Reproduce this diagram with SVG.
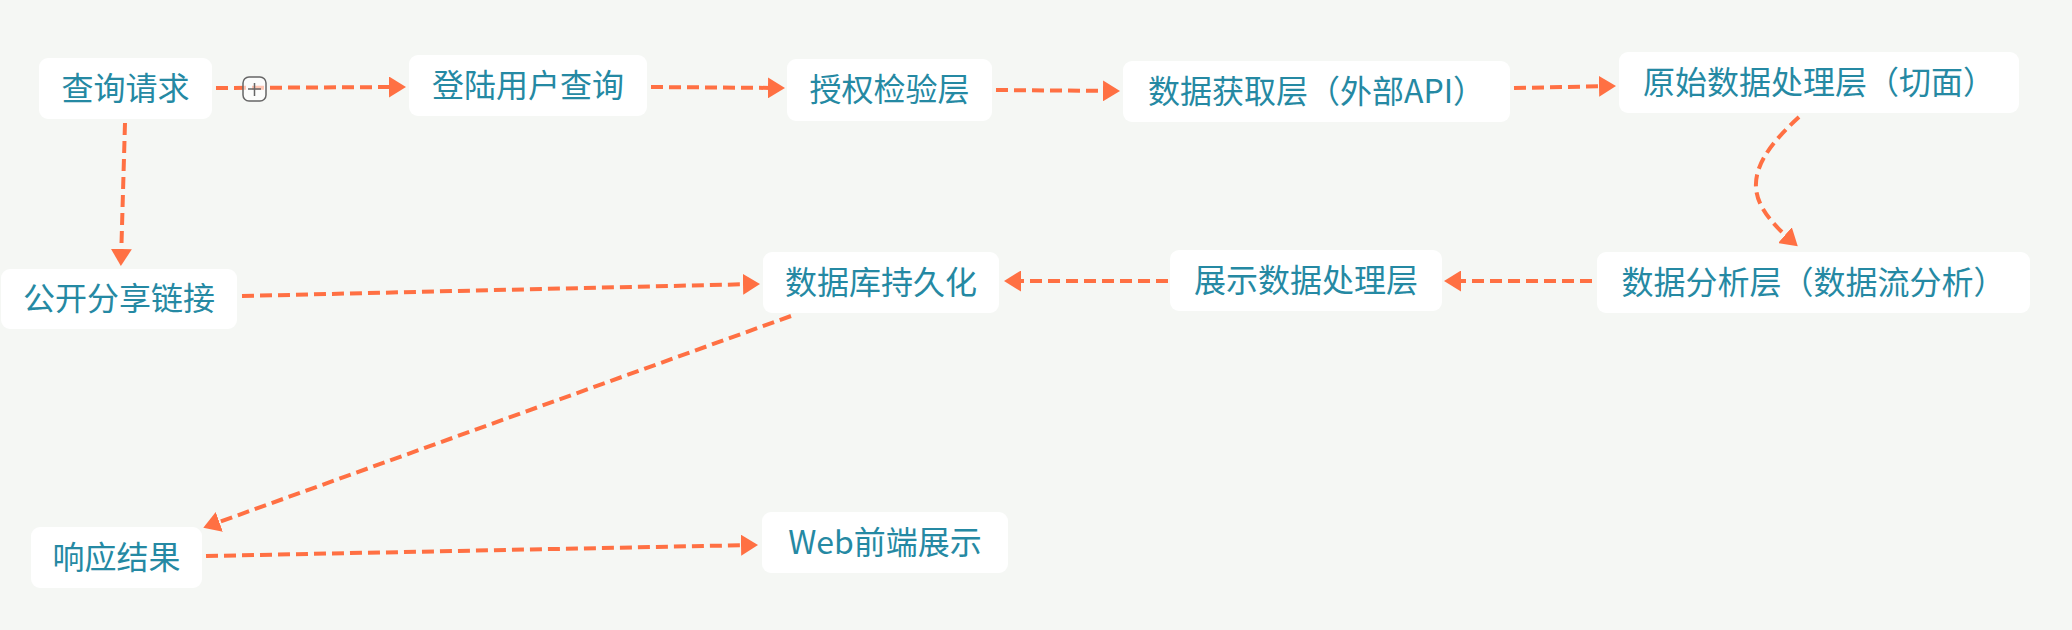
<svg xmlns="http://www.w3.org/2000/svg" width="2072" height="630" viewBox="0 0 2072 630">
<style>
.box{fill:#ffffff}
.lbl{font-family:"Noto Sans CJK SC","Noto Sans",sans-serif;font-size:32px;fill:#2589a3;text-anchor:middle}
.edge{fill:none;stroke:#ff7043;stroke-width:4;stroke-dasharray:12 6}
</style>
<defs>
<marker id="ah" viewBox="0 0 17 21" refX="12" refY="10.5" markerWidth="17" markerHeight="21" markerUnits="userSpaceOnUse" orient="auto">
<path d="M0,0 L17,10.5 L0,21 Z" fill="#ff7043"/>
</marker>
</defs>
<rect width="2072" height="630" fill="#f5f7f4"/>
<g id="connectors">
<path class="edge" d="M216,88 L401,87" marker-end="url(#ah)"/>
<path class="edge" d="M651,87 L780,88" marker-end="url(#ah)"/>
<path class="edge" d="M996,90 L1115,91" marker-end="url(#ah)"/>
<path class="edge" d="M1514,88 L1611,86" marker-end="url(#ah)"/>
<path class="edge" d="M1799,117 C1735,175 1750,205 1794,243" marker-end="url(#ah)"/>
<path class="edge" d="M1592,281 L1449,281" marker-end="url(#ah)"/>
<path class="edge" d="M1168,281 L1009,281" marker-end="url(#ah)"/>
<path class="edge" d="M125,123 L121,261" marker-end="url(#ah)"/>
<path class="edge" d="M242,296 L755,284" marker-end="url(#ah)"/>
<path class="edge" d="M791,316 L208,526" marker-end="url(#ah)"/>
<path class="edge" d="M206,556 L753,545" marker-end="url(#ah)"/>
</g>
<g id="collapse-toggle">
<rect x="243" y="77" width="23" height="24" rx="6" fill="#ffffff" fill-opacity="0.6" stroke="#666666" stroke-width="1.5"/>
<path d="M248,89 H261 M254.5,83 V96" stroke="#666666" stroke-width="1.5" fill="none"/>
</g>
<g id="n1"><rect class="box" x="39" y="58" width="173" height="61" rx="9"/><text class="lbl" x="125.5" y="99.5">查询请求</text></g>
<g id="n2"><rect class="box" x="409" y="55" width="238" height="61" rx="9"/><text class="lbl" x="528" y="96.5">登陆用户查询</text></g>
<g id="n3"><rect class="box" x="787" y="59" width="205" height="62" rx="9"/><text class="lbl" x="889.5" y="101">授权检验层</text></g>
<g id="n4"><rect class="box" x="1123" y="61" width="387" height="61" rx="9"/><text class="lbl" x="1316.5" y="102.5">数据获取层（外部API）</text></g>
<g id="n5"><rect class="box" x="1619" y="52" width="400" height="61" rx="9"/><text class="lbl" x="1819" y="93.5">原始数据处理层（切面）</text></g>
<g id="n6"><rect class="box" x="1597" y="252" width="433" height="61" rx="9"/><text class="lbl" x="1813.5" y="293.5">数据分析层（数据流分析）</text></g>
<g id="n7"><rect class="box" x="1170" y="250" width="272" height="61" rx="9"/><text class="lbl" x="1306" y="291.5">展示数据处理层</text></g>
<g id="n8"><rect class="box" x="763" y="252" width="236" height="61" rx="9"/><text class="lbl" x="881" y="293.5">数据库持久化</text></g>
<g id="n9"><rect class="box" x="1" y="269" width="236" height="60" rx="9"/><text class="lbl" x="119" y="310">公开分享链接</text></g>
<g id="n10"><rect class="box" x="31" y="527" width="171" height="61" rx="9"/><text class="lbl" x="116.5" y="568.5">响应结果</text></g>
<g id="n11"><rect class="box" x="762" y="512" width="246" height="61" rx="9"/><text class="lbl" x="885" y="553.5">Web前端展示</text></g>
</svg>
